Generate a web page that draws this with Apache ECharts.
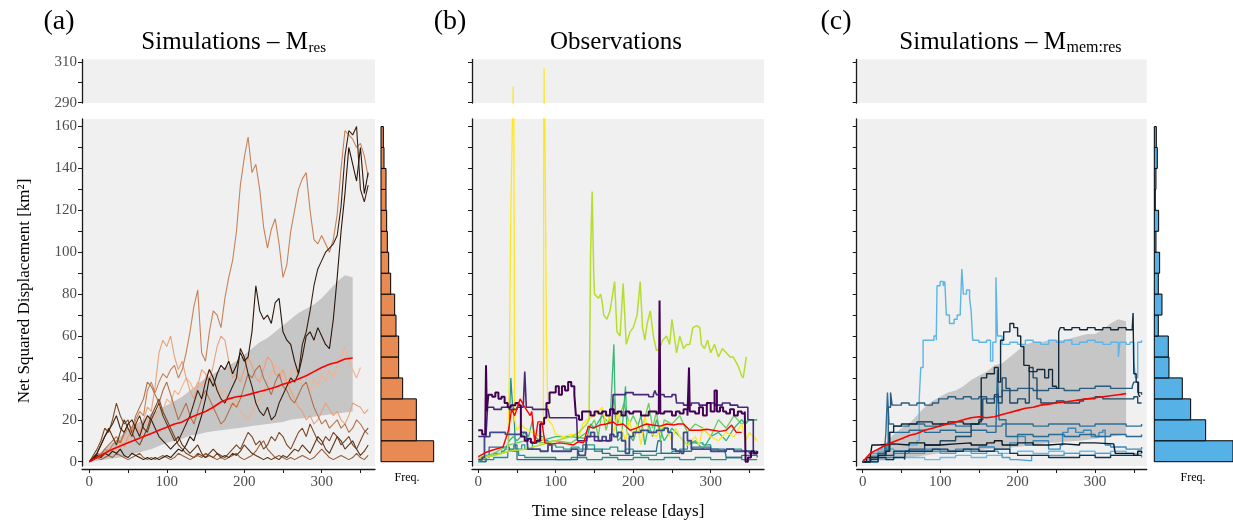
<!DOCTYPE html>
<html>
<head>
<meta charset="utf-8">
<script src="https://cdn.jsdelivr.net/npm/echarts@6/dist/echarts.min.js"></script>
<style>
  html, body { margin: 0; padding: 0; background: #fff; }
  #chart { width: 1233px; height: 526px; }
</style>
</head>
<body>
<div id="chart"></div>
<script>
// 时间轴（天）
const DAYS5 = Array.from({ length: 73 }, (_, i) => i * 5)
const DAYS10 = Array.from({ length: 35 }, (_, i) => i * 10)

const X_TICKS = [0, 50, 100, 150, 200, 250, 300, 350]
const X_LABELS = [0, 100, 200, 300]
const Y_TICKS = [0, 10, 20, 30, 40, 50, 60, 70, 80, 90, 100, 110, 120, 130, 140, 150, 160]
const Y_LABELS = [0, 20, 40, 60, 80, 100, 120, 140, 160]
const TOP_TICKS = [290, 300, 310]
const TOP_LABELS = [290, 310]
const BINS = [0, 10, 20, 30, 40, 50, 60, 70, 80, 90, 100, 110, 120, 130, 140, 150, 160]

// (a) 模拟 M_res，每5天一个值
const simA1 = [0, 1, 3, 4, 6, 5, 8, 10, 9, 13, 16, 14, 20, 24, 22, 34, 38, 33, 38, 42,
  40, 44, 46, 40, 44, 52, 62, 74, 82, 52, 48, 62, 72, 70, 64, 78, 88, 96, 110, 132,
  145, 155, 138, 142, 130, 112, 102, 111, 116, 104, 88, 94, 110, 120, 130, 135, 138, 120, 106, 104,
  108, 104, 100, 106, 118, 140, 158, 156, 154, 150, 152, 146, 136]
const simA2 = [0, 1, 2, 3, 4, 6, 5, 8, 10, 7, 12, 15, 18, 14, 20, 26, 24, 36, 52, 58,
  55, 60, 50, 44, 48, 40, 34, 30, 36, 44, 42, 38, 46, 55, 60, 58, 48, 40, 42, 38,
  44, 50, 46, 40, 38, 44, 50, 48, 42, 40, 44, 38, 34, 30, 26, 24, 20, 22, 18, 20,
  24, 28, 25, 22, 24, 20, 18, 22, 28, 27, 26, 23, 25]
const simA3 = [0, 1, 2, 2, 3, 4, 6, 5, 8, 12, 10, 14, 16, 12, 15, 19, 22, 20, 26, 24,
  30, 28, 34, 32, 36, 40, 38, 34, 38, 36, 40, 44, 40, 36, 32, 34, 28, 26, 30, 24,
  22, 20, 24, 28, 30, 34, 38, 42, 46, 44, 40, 36, 42, 46, 40, 36, 38, 34, 40, 36,
  42, 38, 44, 40, 46, 50, 55, 48, 44, 40, 45]
const simA4 = [0, 3, 6, 10, 16, 14, 20, 28, 22, 18, 20, 14, 10, 8, 12, 16, 22, 26, 30, 24,
  20, 16, 12, 8, 6, 4, 3, 2, 4, 3, 2, 3, 2, 4, 3, 2, 4, 6, 8, 6,
  10, 14, 12, 8, 10, 6, 8, 12, 10, 14, 12, 8, 6, 10, 14, 16, 12, 18, 14, 10,
  8, 12, 10, 14, 12, 8, 10, 12, 8, 6, 10, 14, 16]
const simA5 = [0, 1, 4, 8, 12, 16, 12, 8, 14, 20, 16, 12, 18, 22, 16, 14, 20, 24, 28, 22,
  18, 14, 10, 12, 8, 6, 4, 6, 8, 4, 2, 4, 6, 4, 2, 3, 2, 4, 3, 5,
  8, 6, 4, 3, 2, 1, 2, 1, 2, 1, 3, 2, 4, 6, 5, 8, 6, 4, 8, 12,
  10, 6, 4, 8, 12, 10, 6, 8, 10, 6, 3, 5, 8]
const simA6 = [0, 1, 2, 1, 2, 3, 2, 4, 3, 2, 1, 2, 3, 4, 2, 1, 2, 1, 2, 3,
  2, 1, 2, 4, 3, 2, 1, 2, 3, 2, 4, 3, 2, 1, 2, 1, 2, 3, 4, 2,
  1, 2, 3, 5, 8, 10, 6, 4, 2, 3, 2, 1, 2, 1, 2, 3, 2, 1, 2, 4,
  6, 4, 2, 1, 2, 3, 2, 1, 2, 4, 2, 1, 3]
const simA7 = [0, 2, 4, 3, 6, 8, 10, 12, 9, 14, 18, 16, 22, 26, 30, 38, 36, 32, 28, 34,
  38, 32, 26, 20, 24, 28, 22, 18, 24, 30, 34, 30, 26, 22, 18, 20, 24, 28, 26, 30,
  36, 42, 40, 44, 46, 40, 36, 32, 38, 42, 36, 34, 30, 28, 32, 36, 38, 32, 26, 22,
  18, 20, 16, 18, 20, 16, 18, 14, 16, 20, 18, 15, 13]
const simA8 = [0, 2, 4, 8, 12, 15, 18, 22, 16, 14, 18, 20, 16, 12, 18, 22, 20, 16, 12, 10,
  8, 6, 8, 10, 14, 18, 22, 28, 34, 30, 38, 44, 40, 34, 30, 28, 32, 36, 40, 54,
  50, 42, 36, 28, 24, 22, 26, 20, 22, 28, 32, 36, 40, 38, 42, 56, 62, 72, 84, 92,
  96, 100, 102, 104, 108, 122, 146, 158, 156, 160, 130, 124, 132]
const simA9 = [0, 1, 3, 2, 4, 3, 5, 4, 6, 3, 2, 4, 3, 2, 1, 2, 1, 2, 1, 2,
  3, 2, 4, 6, 5, 8, 12, 10, 16, 22, 30, 40, 36, 42, 46, 44, 48, 42, 46, 52,
  48, 50, 62, 84, 72, 68, 70, 66, 76, 78, 62, 58, 56, 48, 42, 50, 60, 62, 58, 64,
  60, 56, 54, 68, 88, 110, 128, 150, 142, 134, 150, 128, 138]
// (a) 均值与区间，每10天
const meanA = [0, 2, 4, 6, 7.5, 9, 10.5, 12, 13.5, 15, 16.5, 18, 19, 21, 22.5, 24, 26, 28.5, 30, 31,
  31.5, 32.5, 33.5, 34.5, 35.5, 37, 38, 39.5, 41, 43, 45, 46.5, 47.5, 49, 49.5]
const lowA = [0, 0.5, 1, 1.5, 2, 3, 4, 5, 6, 7.5, 9, 10, 11, 12.5, 13, 14, 14.5, 15, 15.5, 16,
  16.5, 17, 17.5, 18, 18.5, 19, 20, 20.5, 21, 21.5, 22, 22.5, 23, 23.5, 24]
const highA = [0, 3, 6, 9, 12, 15, 18, 20, 23, 25, 27, 29, 31, 34, 37, 40, 42, 44, 46, 48,
  51, 54, 57, 59, 62, 65, 68, 71, 73, 75, 78, 82, 86, 89, 88]
const freqA = [158, 106, 106, 65, 53, 53, 45, 41, 29, 23, 19, 17, 15, 15, 9, 7]

// (b) 观测 [天, 值]
const obs1 = [[0, 1], [10, 2], [20, 3], [30, 4], [38, 5], [40, 40], [42, 120], [44, 160], [45, 298], [46, 160], [47, 20], [50, 15], [55, 18], [60, 16], [70, 14], [80, 12], [84, 10], [85, 307], [86, 160], [88, 60], [90, 20], [95, 18], [100, 13], [110, 12], [120, 13], [130, 12], [135, 18], [140, 20], [150, 22], [160, 26], [165, 18], [170, 22], [175, 14], [180, 24], [185, 16], [190, 10], [195, 20], [200, 12], [205, 18], [210, 8], [215, 22], [220, 14], [230, 12], [240, 18], [250, 10], [255, 16], [260, 12], [270, 8], [280, 12], [285, 8], [290, 16], [300, 12], [310, 10], [320, 14], [330, 12], [340, 18], [345, 10], [350, 14], [360, 10]]
const obs2 = [[0, 2], [20, 3], [40, 5], [60, 6], [80, 8], [100, 10], [120, 12], [130, 14], [140, 18], [143, 20], [145, 100], [147, 129], [149, 90], [150, 80], [155, 78], [158, 80], [160, 76], [162, 70], [166, 68], [170, 72], [176, 86], [179, 62], [183, 60], [187, 85], [191, 56], [196, 62], [200, 64], [205, 70], [209, 86], [212, 64], [215, 58], [218, 66], [222, 72], [226, 60], [230, 53], [234, 54], [238, 58], [243, 60], [247, 56], [250, 68], [253, 60], [256, 52], [260, 60], [265, 54], [269, 56], [273, 56], [277, 64], [282, 65], [286, 64], [288, 56], [292, 54], [296, 58], [300, 52], [305, 56], [310, 50], [315, 54], [320, 52], [325, 50], [329, 50], [335, 46], [340, 41], [342, 40], [346, 50]]
const obs3 = [[0, 15], [5, 13], [9, 14], [10, 46], [11, 24], [13, 32], [18, 31], [22, 33], [26, 30], [30, 31], [34, 28], [38, 26], [42, 27], [48, 28], [52, 27], [55, 12], [60, 10], [64, 11], [68, 9], [75, 10], [80, 18], [85, 21], [88, 28], [92, 33], [96, 33], [100, 36], [104, 32], [108, 36], [112, 34], [116, 38], [120, 36], [124, 32], [126, 22], [130, 20], [134, 24], [140, 24], [145, 22], [150, 24], [155, 23], [160, 24], [165, 22], [170, 25], [175, 23], [180, 24], [185, 22], [190, 24], [195, 23], [200, 24], [210, 22], [220, 24], [230, 23], [233, 24], [234, 77], [235, 23], [240, 24], [250, 22], [255, 24], [260, 23], [265, 25], [270, 22], [272, 45], [273, 24], [280, 23], [285, 26], [290, 22], [295, 28], [300, 24], [305, 34], [308, 24], [312, 26], [316, 24], [320, 23], [325, 25], [330, 22], [335, 24], [340, 23], [344, 24], [345, 0], [348, 2], [352, 5], [356, 4], [360, 5]]
const obs4 = [[0, 12], [5, 12], [10, 13], [12, 26], [20, 25], [30, 26], [40, 25], [50, 26], [58, 26], [60, 43], [62, 26], [70, 25], [80, 25], [90, 25], [92, 21], [100, 21], [110, 21], [120, 21], [127, 21], [128, 10], [135, 10], [140, 12], [150, 10], [160, 10], [172, 10], [174, 32], [180, 32], [190, 33], [200, 32], [210, 32], [220, 31], [226, 32], [228, 34], [230, 32], [240, 31], [250, 32], [255, 31], [256, 28], [265, 27], [275, 28], [285, 27], [295, 28], [305, 27], [315, 28], [325, 27], [335, 26], [345, 26], [348, 20], [355, 4], [360, 4]]
const obs5 = [[0, 1], [5, 2], [8, 12], [15, 14], [25, 14], [35, 13], [45, 13], [55, 14], [62, 14], [64, 6], [70, 6], [80, 5], [90, 8], [95, 5], [110, 5], [120, 6], [128, 6], [130, 3], [138, 3], [140, 12], [145, 14], [150, 12], [155, 10], [160, 12], [165, 10], [170, 13], [175, 12], [180, 14], [185, 10], [190, 4], [195, 12], [200, 14], [210, 15], [220, 14], [230, 15], [240, 16], [245, 14], [250, 6], [255, 5], [262, 4], [265, 14], [270, 10], [275, 6], [285, 6], [300, 5], [310, 5], [320, 6], [330, 5], [340, 5], [350, 4], [360, 5]]
const obs6 = [[0, 0], [10, 1], [20, 2], [30, 2], [38, 3], [40, 20], [42, 40], [44, 28], [46, 24], [48, 6], [52, 3], [60, 2], [80, 2], [100, 1], [120, 2], [140, 1], [160, 2], [180, 1], [200, 2], [220, 1], [240, 2], [260, 1], [280, 2], [300, 1], [320, 2], [340, 1], [360, 1]]
const obs7 = [[0, 0], [10, 2], [14, 7], [30, 7], [40, 6], [46, 8], [50, 1], [70, 1], [90, 1], [110, 1], [125, 1], [128, 5], [135, 8], [140, 6], [160, 4], [170, 3], [200, 5], [220, 5], [230, 6], [232, 10], [236, 4], [260, 5], [275, 5], [277, 7], [300, 6], [318, 6], [320, 2], [340, 3], [360, 2]]
const obs8 = [[0, 1], [10, 3], [20, 4], [30, 5], [34, 6], [40, 5], [50, 6], [56, 8], [60, 6], [70, 9], [75, 10], [80, 12], [85, 10], [90, 8], [100, 7], [110, 6], [120, 7], [130, 6], [140, 8], [150, 5], [160, 6], [170, 7], [180, 5], [190, 6], [200, 4], [210, 3], [230, 4], [250, 5], [260, 6], [270, 9], [290, 8], [300, 6], [310, 5], [320, 6], [340, 5], [360, 4]]
const obs9 = [[0, 0], [10, 2], [20, 3], [30, 4], [35, 6], [40, 10], [45, 12], [50, 10], [60, 14], [65, 12], [70, 20], [72, 12], [80, 10], [100, 12], [120, 12], [140, 11], [145, 18], [150, 16], [160, 22], [170, 18], [175, 56], [177, 20], [180, 10], [185, 12], [190, 36], [192, 14], [200, 10], [210, 22], [215, 8], [220, 18], [225, 12], [230, 20], [240, 10], [250, 16], [260, 12], [270, 8], [280, 10], [290, 6], [300, 12], [310, 14], [320, 10], [330, 16], [340, 20], [345, 18], [350, 20], [360, 20]]
const obs10 = [[0, 1], [20, 4], [40, 8], [60, 10], [80, 9], [100, 10], [120, 9], [140, 14], [150, 20], [155, 12], [160, 25], [165, 15], [175, 30], [180, 18], [188, 28], [195, 18], [200, 22], [210, 14], [220, 28], [225, 16], [230, 24], [235, 10], [240, 20], [250, 18], [260, 22], [270, 14], [280, 18], [290, 16], [300, 12], [310, 20], [320, 16], [330, 22], [340, 18], [350, 20], [360, 20]]
const meanB = [[0, 2.4], [10, 4.5], [19, 5.6], [32, 7], [39, 15], [43, 25], [47, 22], [54, 30], [60, 26], [67, 22], [69, 24], [73, 9], [77, 19], [82, 19], [86, 9], [95, 8.5], [105, 9], [115, 8.5], [123, 8], [129, 9.5], [136, 9], [142, 17], [148, 16], [157, 17.5], [165, 18], [174, 19], [179, 17.5], [187, 18], [196, 15], [204, 16], [210, 17], [217, 18], [225, 17.5], [235, 17], [243, 18], [252, 17.5], [258, 18], [265, 18], [273, 15], [286, 15], [295, 15.5], [303, 15], [312, 14.5], [320, 15], [327, 17.5], [333, 14], [340, 14]]

// (c) 模拟 M_mem:res [天, 值]
const simC1 = [[0, 1], [10, 3], [20, 5], [30, 6], [40, 4], [50, 5], [60, 8], [70, 10], [73, 30], [75, 45], [78, 58], [85, 58], [92, 60], [95, 58], [96, 84], [100, 86], [104, 84], [106, 86], [108, 70], [112, 66], [118, 68], [122, 70], [126, 72], [128, 92], [130, 80], [134, 82], [138, 78], [140, 72], [142, 58], [150, 57], [160, 58], [165, 48], [168, 57], [172, 88], [174, 60], [180, 56], [190, 57], [200, 56], [210, 58], [220, 57], [230, 56], [240, 58], [250, 57], [260, 58], [270, 56], [280, 57], [290, 58], [300, 57], [310, 56], [320, 57], [330, 50], [332, 57], [340, 56], [345, 57], [350, 48], [352, 40], [355, 57], [360, 58]]
const simC2 = [[0, 0], [10, 2], [20, 3], [30, 5], [35, 14], [40, 17], [50, 18], [70, 19], [90, 18], [110, 19], [130, 18], [150, 19], [153, 40], [160, 42], [170, 45], [175, 38], [178, 58], [182, 62], [190, 66], [195, 64], [200, 60], [204, 55], [208, 46], [215, 43], [225, 44], [235, 40], [240, 44], [245, 36], [250, 35], [253, 62], [255, 64], [260, 63], [270, 64], [280, 63], [290, 64], [300, 63], [310, 64], [320, 63], [330, 64], [340, 63], [348, 64], [349, 71], [350, 42], [353, 38], [356, 32], [358, 31]]
const simC3 = [[0, 0], [10, 2], [20, 4], [30, 5], [33, 26], [36, 33], [38, 27], [50, 28], [60, 27], [70, 28], [80, 27], [90, 28], [98, 30], [110, 31], [120, 30], [130, 31], [140, 30], [150, 31], [160, 30], [170, 31], [180, 34], [200, 35], [220, 34], [240, 35], [260, 34], [280, 35], [300, 36], [320, 35], [340, 35], [348, 36], [350, 38], [355, 33], [360, 32]]
const simC4 = [[0, 0], [20, 3], [40, 5], [60, 6], [80, 8], [100, 10], [120, 12], [140, 18], [150, 20], [155, 30], [160, 28], [170, 32], [175, 28], [180, 40], [185, 35], [190, 28], [200, 30], [210, 28], [215, 45], [220, 40], [225, 30], [230, 28], [240, 28], [250, 29], [260, 28], [270, 28], [280, 29], [285, 30], [290, 30], [300, 31], [310, 30], [320, 30], [340, 30], [350, 31], [355, 28], [360, 28]]
const simC5 = [[0, 0], [10, 2], [20, 3], [28, 4], [30, 14], [32, 33], [34, 18], [40, 17], [60, 18], [80, 17], [100, 18], [120, 17], [140, 18], [160, 17], [180, 18], [200, 18], [220, 17], [240, 18], [260, 18], [280, 17], [300, 18], [320, 18], [340, 17], [360, 18]]
const simC6 = [[0, 0], [5, 2], [10, 3], [12, 8], [20, 8.5], [40, 8], [60, 9], [80, 8], [100, 8.5], [120, 9], [140, 8], [160, 9], [170, 10], [180, 8], [200, 9], [220, 8], [240, 8.5], [260, 8], [280, 9], [300, 8.5], [324, 8], [326, 4], [340, 4], [350, 3], [355, 5], [360, 4]]
const simC7 = [[0, 0], [20, 2], [40, 4], [60, 5], [80, 6], [100, 5], [120, 6], [140, 5], [150, 7], [170, 6], [190, 9], [200, 12], [210, 8], [220, 10], [240, 6], [255, 8], [258, 14], [265, 16], [275, 14], [285, 15], [295, 12], [305, 14], [310, 15], [313, 8], [320, 7], [340, 6], [360, 7]]
const simC8 = [[0, 0], [10, 4], [20, 6], [25, 8], [30, 6], [40, 5], [60, 4], [80, 5], [100, 4], [120, 5], [140, 4], [160, 5], [175, 4], [180, 2], [190, 1], [200, 0.5], [215, 0.5], [218, 3], [240, 3], [260, 4], [280, 3], [300, 4], [320, 3], [340, 3], [360, 2]]
const simC9 = [[0, 0], [10, 1], [20, 2], [30, 1], [40, 2], [54, 1], [55, 5], [70, 5], [90, 6], [110, 5], [130, 6], [150, 5], [170, 6], [190, 4], [200, 3], [220, 3], [240, 2], [260, 2], [280, 3], [300, 2], [320, 3], [340, 3], [360, 3]]
const simC10 = [[0, 0], [10, 2], [20, 4], [30, 8], [34, 14], [40, 14], [60, 15], [80, 14], [100, 15], [120, 14], [140, 15], [160, 14], [172, 16], [174, 44], [176, 20], [185, 12], [200, 13], [220, 12], [240, 13], [260, 12], [280, 13], [300, 12], [320, 13], [340, 12], [360, 13]]
const simC11 = [[0, 0], [20, 1], [40, 2], [60, 2], [80, 1], [100, 2], [120, 3], [140, 2], [160, 3], [180, 4], [200, 5], [220, 4], [240, 5], [260, 4], [280, 5], [300, 4], [320, 5], [340, 4], [360, 5]]
const meanC = [0, 4, 6, 8, 9.5, 11, 12.5, 13.5, 15, 16, 17, 18, 19, 20, 21, 21.5, 21, 21.5, 22.5, 23.5,
  24.5, 25.5, 26, 27, 27.5, 28, 28.5, 29, 29.5, 30, 30.5, 31, 31.5, 32, 32.5]
const lowC = [0, 0.5, 1, 1.2, 1.5, 1.8, 2, 2.5, 3, 3.5, 4, 4.2, 4.5, 4.8, 5, 5.5, 6, 6.2, 6.5, 6.8,
  7, 7.5, 8, 8.5, 9, 9.2, 9.5, 9.8, 10, 10.5, 11, 11.5, 12, 12.5, 13]
const highC = [0, 3, 6, 9, 13, 16, 18, 22, 26, 29, 31, 33, 34, 36, 39, 41, 43, 46, 47, 50,
  53, 56, 57, 57, 58, 58, 58, 59, 60, 61, 61, 63, 66, 68, 67]
const freqC = [236, 154, 109, 84, 44, 42, 12, 23, 12, 16, 5, 13, 3, 5, 9, 6]

const FONT = 'Liberation Serif'
const AXIS_COLOR = '#1a1a1a'
const LABEL_COLOR = '#4d4d4d'
const PANEL_BG = '#f0f0f0'

;(function () {
  let myChart = echarts.init(document.getElementById('chart'), null, { renderer: 'canvas' })

  let pairs = (days, vals) => vals.map((v, i) => [days[i], v])

  // 网格：0 a上 1 a主 2 a直方 3 b上 4 b主 5 c上 6 c主 7 c直方
  let grids = [
    { left: 82, top: 59.5, width: 293, height: 43.5, show: true, backgroundColor: PANEL_BG, borderWidth: 0 },
    { left: 82, top: 119, width: 293, height: 347, show: true, backgroundColor: PANEL_BG, borderWidth: 0 },
    { left: 381, top: 119, width: 54, height: 347 },
    { left: 472, top: 59.5, width: 292, height: 43.5, show: true, backgroundColor: PANEL_BG, borderWidth: 0 },
    { left: 472, top: 119, width: 292, height: 347, show: true, backgroundColor: PANEL_BG, borderWidth: 0 },
    { left: 856.7, top: 59.5, width: 290, height: 43.5, show: true, backgroundColor: PANEL_BG, borderWidth: 0 },
    { left: 856.7, top: 119, width: 290, height: 347, show: true, backgroundColor: PANEL_BG, borderWidth: 0 },
    { left: 1154.3, top: 119, width: 78.7, height: 347 }
  ]

  let xRanges = [[-9.4, 368.8], [-8.1, 368.8], [-7.7, 366.6]]

  let mainX = (gi, r) => ({
    type: 'value', gridIndex: gi, min: r[0], max: r[1], offset: 3,
    axisLine: { show: true, onZero: false, lineStyle: { color: AXIS_COLOR, width: 1.3 } },
    axisTick: { show: true, length: 4, customValues: X_TICKS, lineStyle: { color: AXIS_COLOR } },
    axisLabel: { show: true, customValues: X_LABELS, margin: 6, color: LABEL_COLOR, fontFamily: FONT, fontSize: 15 },
    splitLine: { show: false }
  })
  let hiddenX = (gi, min, max) => ({ type: 'value', gridIndex: gi, min, max, show: false, splitLine: { show: false } })

  let mainY = (gi, labels) => ({
    type: 'value', gridIndex: gi, min: -2.05, max: 163.6,
    axisLine: { show: true, onZero: false, lineStyle: { color: AXIS_COLOR, width: 1.3 } },
    axisTick: { show: true, length: 4, customValues: Y_TICKS, lineStyle: { color: AXIS_COLOR } },
    axisLabel: { show: labels, customValues: Y_LABELS, margin: 5, color: LABEL_COLOR, fontFamily: FONT, fontSize: 15 },
    splitLine: { show: false }
  })
  let topY = (gi, labels) => ({
    type: 'value', gridIndex: gi, min: 289.8, max: 311.3,
    axisLine: { show: true, onZero: false, lineStyle: { color: AXIS_COLOR, width: 1.3 } },
    axisTick: { show: true, length: 4, customValues: TOP_TICKS, lineStyle: { color: AXIS_COLOR } },
    axisLabel: { show: labels, customValues: TOP_LABELS, margin: 5, color: LABEL_COLOR, fontFamily: FONT, fontSize: 15 },
    splitLine: { show: false }
  })
  let histY = gi => ({ type: 'value', gridIndex: gi, min: -2.05, max: 163.6, show: false, splitLine: { show: false } })

  let xAxis = [
    hiddenX(0, xRanges[0][0], xRanges[0][1]), mainX(1, xRanges[0]), hiddenX(2, 0, 162),
    hiddenX(3, xRanges[1][0], xRanges[1][1]), mainX(4, xRanges[1]),
    hiddenX(5, xRanges[2][0], xRanges[2][1]), mainX(6, xRanges[2]), hiddenX(7, 0, 236)
  ]
  let yAxis = [topY(0, true), mainY(1, true), histY(2), topY(3, false), mainY(4, false), topY(5, false), mainY(6, false), histY(7)]

  let line = (gi, data, color, width, z, step) => ({
    type: 'line', xAxisIndex: gi, yAxisIndex: gi, data: data, step: step || false,
    symbol: 'none', showSymbol: false, clip: true, silent: true, z: z || 2,
    lineStyle: { color: color, width: width }, itemStyle: { color: color }
  })

  // 灰色置信带
  let ribbon = (gi, days, lo, hi) => ({
    type: 'custom', xAxisIndex: gi, yAxisIndex: gi, data: [[days[0], lo[0]]], silent: true, z: 1,
    renderItem: function (params, api) {
      let pts = []
      days.forEach((d, i) => pts.push(api.coord([d, hi[i]])))
      for (let i = days.length - 1; i >= 0; i--) pts.push(api.coord([days[i], lo[i]]))
      return { type: 'polygon', shape: { points: pts }, style: { fill: '#c6c6c6' } }
    }
  })

  // 直方图
  let hist = (gi, counts, color) => ({
    type: 'custom', xAxisIndex: gi, yAxisIndex: gi, silent: true,
    data: counts.map((c, i) => [BINS[i], BINS[i + 1], c]),
    encode: { x: 2, y: [0, 1] },
    renderItem: function (params, api) {
      let a = api.coord([0, api.value(0)])
      let b = api.coord([api.value(2), api.value(1)])
      return {
        type: 'rect',
        shape: { x: a[0], y: b[1], width: b[0] - a[0], height: a[1] - b[1] },
        style: { fill: color, stroke: '#000', lineWidth: 1 }
      }
    }
  })

  let series = []

  // (a)
  series.push(ribbon(1, DAYS10, lowA, highA))
  let linesA = [
    [simA3, '#f1b38e'], [simA2, '#e9a07a'], [simA1, '#c5835a'], [simA7, '#b0714a'],
    [simA6, '#97603d'], [simA4, '#7a4727'], [simA5, '#5c3418'], [simA8, '#3b1f0e'], [simA9, '#2a1509']
  ]
  linesA.forEach(l => series.push(line(1, pairs(DAYS5, l[0]), l[1], 1.1, 3)))
  series.push(line(1, pairs(DAYS10, meanA), '#ff0000', 1.6, 5))
  series.push(hist(2, freqA, '#e88a54'))

  // (b) 紫色、蓝色观测是分段平台，黄绿色是连续折线
  let linesB = [
    [obs6, '#21918c', 1.3, 'end'], [obs8, '#1f9e89', 1.3, 'end'], [obs7, '#31688e', 1.3, 'end'],
    [obs10, '#6ece58', 1.3, false], [obs9, '#35b779', 1.3, false], [obs1, '#fde725', 1.3, false],
    [obs2, '#b5de2b', 1.5, false], [obs5, '#3e4a89', 1.8, 'end'], [obs4, '#482878', 1.6, 'end'],
    [obs3, '#440154', 2, 'end']
  ]
  linesB.forEach(l => {
    series.push(line(4, l[0], l[1], l[2], 3, l[3]))
    series.push(line(3, l[0], l[1], l[2], 3, l[3]))
  })
  series.push(line(4, meanB, '#ff0000', 1.4, 5))

  // (c)
  series.push(ribbon(6, DAYS10, lowC, highC))
  let linesC = [
    [simC11, '#6fbce6'], [simC8, '#4a9fd4'], [simC1, '#5cb5e6'], [simC7, '#3b88ba'],
    [simC10, '#2b6a92'], [simC5, '#2f6f95'], [simC3, '#285b7d'], [simC4, '#1f4866'],
    [simC9, '#16344c'], [simC6, '#0b1824'], [simC2, '#112a3c']
  ]
  linesC.forEach(l => series.push(line(6, l[0], l[1], 1.4, 3, 'end')))
  series.push(line(6, pairs(DAYS10, meanC), '#ff0000', 1.6, 5))
  series.push(hist(7, freqC, '#56b1e6'))

  let txt = (x, y, text, size, align, extra) => Object.assign({
    type: 'text', x: x, y: y, silent: true,
    style: { text: text, fontFamily: FONT, fontSize: size, fill: '#000', textAlign: align || 'center', textVerticalAlign: 'middle' }
  }, extra || {})

  let option = {
    animation: false,
    backgroundColor: '#fff',
    grid: grids,
    xAxis: xAxis,
    yAxis: yAxis,
    series: series,
    graphic: [
      txt(59, 22, '(a)', 28),
      txt(450, 22, '(b)', 28),
      txt(836, 22, '(c)', 28),
      txt(308, 42, 'Simulations \u2013 M', 25, 'right'),
      txt(308.5, 48, 'res', 15, 'left'),
      txt(616, 42, 'Observations', 25),
      txt(1066, 42, 'Simulations \u2013 M', 25, 'right'),
      txt(1066.5, 48, 'mem:res', 16, 'left'),
      txt(25, 291, 'Net Squared Displacement [km\u00b2]', 17, 'center', { rotation: Math.PI / 2 }),
      txt(618, 512, 'Time since release [days]', 17),
      txt(407, 478, 'Freq.', 12),
      txt(1193, 478, 'Freq.', 12)
    ]
  }
  myChart.setOption(option)
})()
</script>
</body>
</html>
